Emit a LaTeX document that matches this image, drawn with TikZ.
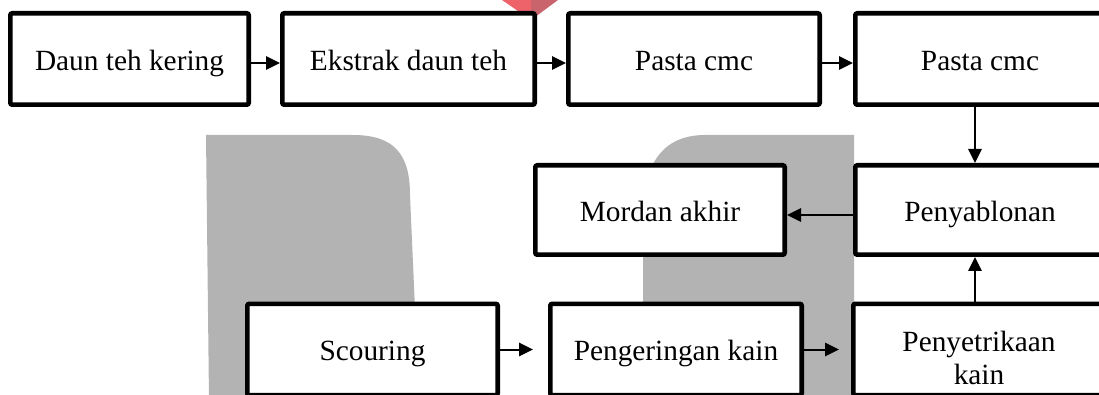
\documentclass[tikz,border=0pt]{standalone}
\usepackage{fontspec}
\setmainfont{Liberation Serif}
\usetikzlibrary{arrows.meta}
\definecolor{wmgray}{HTML}{B3B3B3}
\definecolor{wmred}{HTML}{EE626A}
\definecolor{wmreddark}{HTML}{C9636C}
\begin{document}
\begin{tikzpicture}[x=0.75pt,y=-0.75pt,
  box/.style={draw, line width=3.4pt, fill=white, rounded corners=1.5pt,
    minimum height=68.6pt, font=\fontsize{22}{24.75}\selectfont,
    text height=17pt, text depth=0pt, inner sep=0pt},
  arr/.style={-{Triangle[length=10.5pt,width=10pt]}, line width=1.5pt}]
\useasboundingbox (0,0) rectangle (1099,395);
\clip (0,0) rectangle (1099,395);
% watermark
\fill[wmgray] (206,135) -- (353,135) .. controls (395,135) and (410,155) .. (410,195) -- (419,400) -- (209,400) -- cycle;
\fill[wmgray] (643,400) -- (643,215) .. controls (643,165) and (662,135) .. (705,135) -- (854,135) -- (854,400) -- cycle;
\fill[wmred] (502,0) -- (531,0) -- (531,20) -- cycle;
\fill[wmreddark] (531,0) -- (558,0) -- (531,20) -- cycle;
% boxes
\node[box, minimum width=178.85pt] (b1) at (129.5,59) {Daun teh kering};
\node[box, minimum width=189.35pt] (b2) at (408.5,59) {Ekstrak daun teh};
\node[box, minimum width=188.6pt] (b3) at (694,59) {Pasta cmc};
\node[box, minimum width=187.1pt] (b4) at (980,59) {Pasta cmc};
\node[box, minimum width=187.1pt, minimum height=67.1pt] (pen) at (980,210) {Penyablonan};
\node[box, minimum width=187.1pt, minimum height=67.1pt] (mord) at (660,210) {Mordan akhir};
\node[box, minimum width=187.85pt] (scour) at (372.5,349.5) {Scouring};
\node[box, minimum width=188.6pt] (kering) at (676,349.5) {Pengeringan kain};
\node[box, minimum width=188.6pt, text height=2.25pt] (setrika) at (979,349.5)
  {\begin{tabular}[t]{@{}c@{}}Penyetrikaan\\kain\end{tabular}};
% connectors
\draw[arr] ([yshift=-3pt]b1.east) -- ([yshift=-3pt]b2.west);
\draw[arr] ([yshift=-3pt]b2.east) -- ([yshift=-3pt]b3.west);
\draw[arr] ([yshift=-3pt]b3.east) -- ([yshift=-3pt]b4.west);
\draw[arr] ([xshift=-3.75pt]b4.south) -- ([xshift=-3.75pt]pen.north);
\draw[arr] ([yshift=-3.75pt]pen.west) -- ([yshift=-3.75pt]mord.east);
\draw[arr] ([xshift=-3.75pt]pen.south |- setrika.north) -- ([xshift=-3.75pt]pen.south);
\draw[arr, shorten >=11.25pt] (scour.east) -- (kering.west);
\draw[arr, shorten >=9pt] (kering.east) -- (setrika.west);
\end{tikzpicture}
\end{document}
